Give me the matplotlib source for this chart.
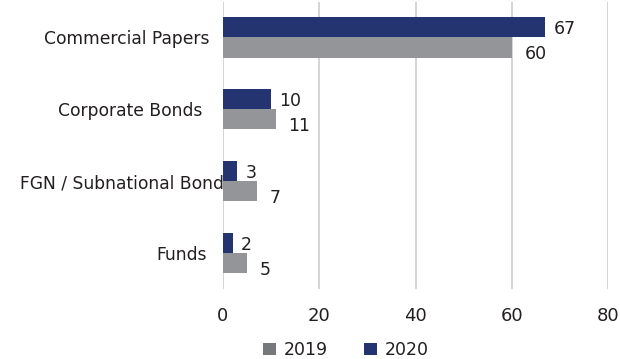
import matplotlib
matplotlib.use("Agg")
import matplotlib.pyplot as plt
import matplotlib.transforms as mtransforms
from matplotlib.patches import Patch
import numpy as np

categories = ["Commercial Papers", "Corporate Bonds", "FGN / Subnational Bond", "Funds"]
values_2019 = [60, 11, 7, 5]
values_2020 = [67, 10, 3, 2]
series_names = ["2019", "2020"]
x_ticks = [0, 20, 40, 60, 80]

navy = "#233471"
grey = "#939598"
grey_legend = "#77787b"
text_col = "#231f20"

plt.rcParams["font.family"] = ["DejaVu Sans"]

fig = plt.figure(figsize=(6.2, 3.59), dpi=100)
ax = fig.add_axes([223 / 620, 1 - 289 / 359, (608 - 223) / 620, (289 - 1.5) / 359])

y = np.arange(len(categories))
h = 0.28
ax.barh(y - h / 2, values_2020, height=h, color=navy, zorder=3)
ax.barh(y + h / 2, values_2019, height=h, color=grey, zorder=3)

ax.set_xlim(0, 80)
ax.set_ylim(len(categories) - 0.5, -0.5)
ax.set_xticks(x_ticks)
ax.set_xticklabels([str(t) for t in x_ticks], fontsize=13, color=text_col)
ax.tick_params(axis="x", length=0, pad=13)
ax.tick_params(axis="y", length=0, pad=0)
ax.grid(axis="x", color="#c9c9c9", linewidth=1.1, zorder=0)
for s in ax.spines.values():
    s.set_visible(False)

ax.set_yticks(y)
ax.set_yticklabels(categories, fontsize=12.3, color=text_col, ha="right")
# per-label horizontal offsets in pixels (negative = left of axis)
offsets = [-13, -21, 1, -16]
for lab, dx in zip(ax.get_yticklabels(), offsets):
    lab.set_transform(lab.get_transform() + mtransforms.ScaledTranslation(dx / 100, 0, fig.dpi_scale_trans))
    lab.set_zorder(1)

for yi, v in zip(y, values_2020):
    ax.text(v, yi - h / 2, str(v), transform=mtransforms.offset_copy(ax.transData, fig=fig, x=6, y=-1.5, units="points"),
            va="center", ha="left", fontsize=12.5, color=text_col, zorder=4)
for yi, v in zip(y, values_2019):
    ax.text(v, yi + h / 2, str(v), transform=mtransforms.offset_copy(ax.transData, fig=fig, x=9, y=-5, units="points"),
            va="center", ha="left", fontsize=12.5, color=text_col, zorder=4)

handles = [Patch(facecolor=grey_legend), Patch(facecolor=navy)]
fig.legend(handles, series_names, loc="center", bbox_to_anchor=(346 / 620, 1 - 350 / 359),
           ncol=2, frameon=False, fontsize=12.5, handlelength=0.75, handleheight=0.75,
           handletextpad=0.45, columnspacing=2.1, labelcolor=text_col)

fig.savefig("out.png", dpi=100)
